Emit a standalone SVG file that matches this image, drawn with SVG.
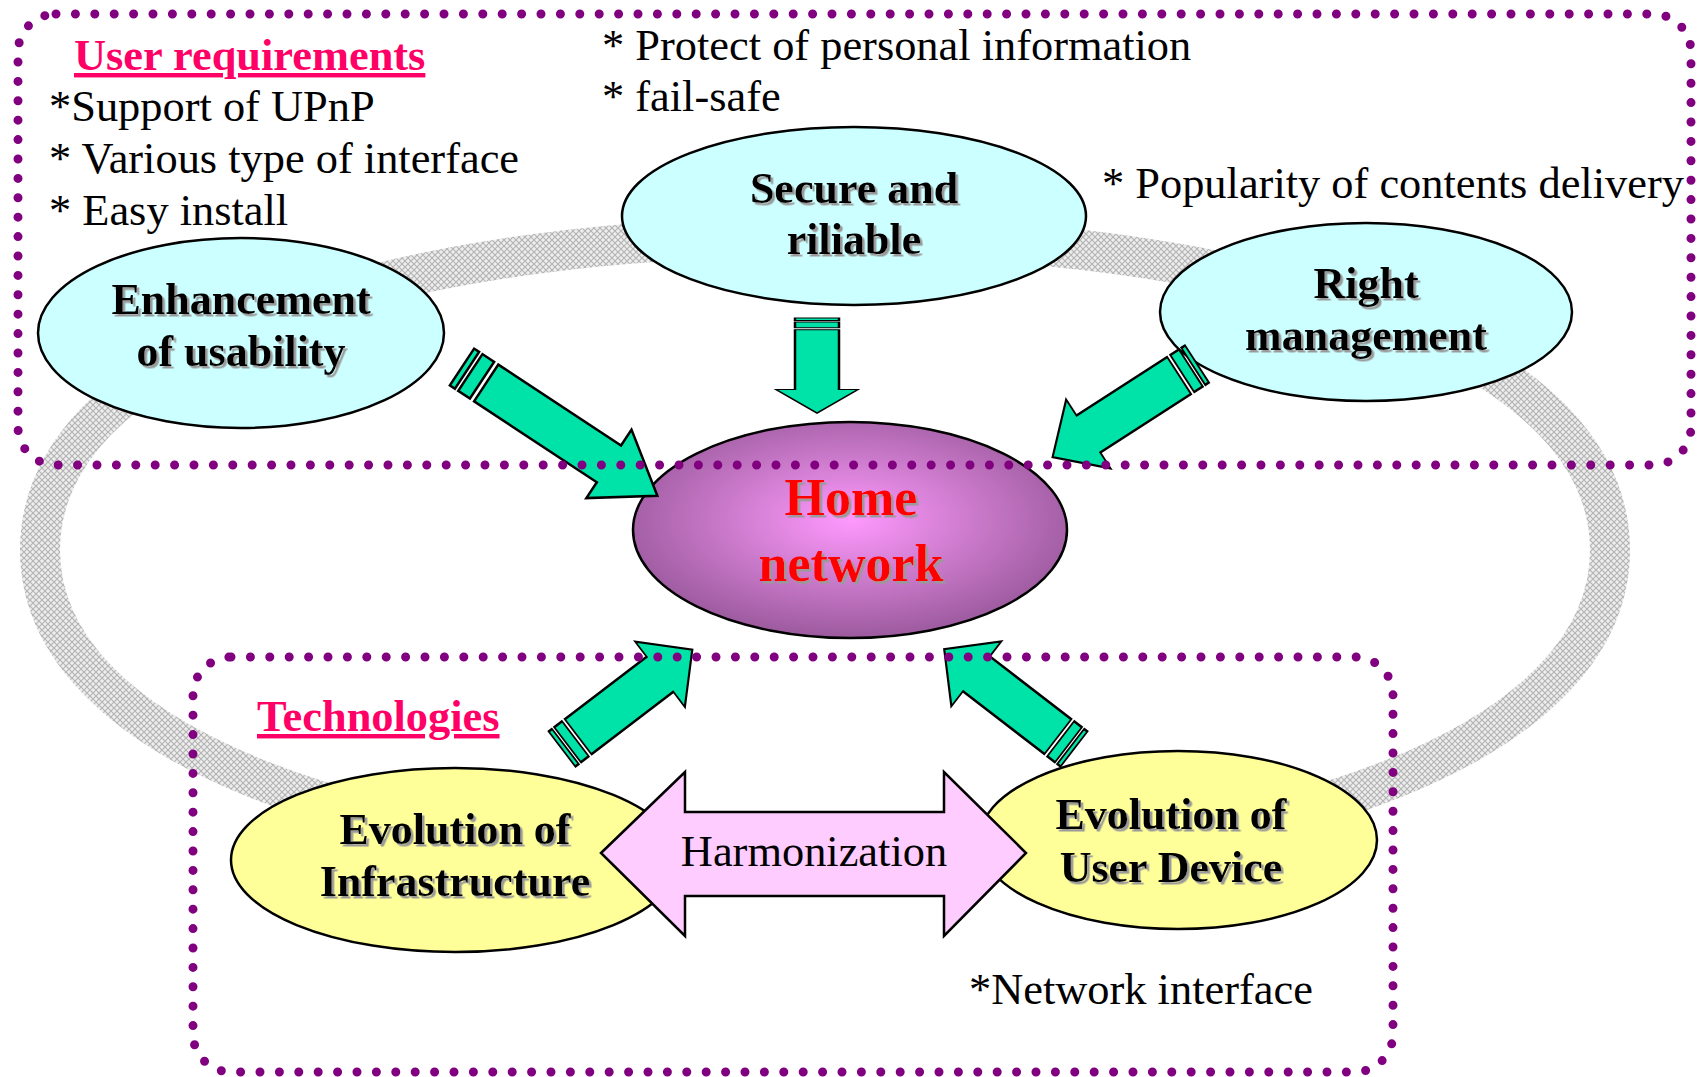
<svg xmlns="http://www.w3.org/2000/svg" width="1697" height="1077" viewBox="0 0 1697 1077">
<defs>
  <pattern id="hatch" width="6" height="6" patternUnits="userSpaceOnUse">
    <rect width="6" height="6" fill="#eeeeee"/>
    <path d="M0,0 L6,6 M6,0 L0,6" stroke="#b4b4b4" stroke-width="1.2"/>
  </pattern>
  <radialGradient id="homeGrad" cx="0.5" cy="0.45" r="0.55">
    <stop offset="0" stop-color="#FF99FF"/>
    <stop offset="0.55" stop-color="#C878C8"/>
    <stop offset="1" stop-color="#9C5A9E"/>
  </radialGradient>
  <filter id="shadow" x="-10%" y="-20%" width="130%" height="150%">
    <feDropShadow dx="2.5" dy="2.5" stdDeviation="0.4" flood-color="#9a9a9a" flood-opacity="1"/>
  </filter>
  <g id="blockArrow">
    <path d="M0,-22 H6 V22 H0 Z"/>
    <path d="M10,-22 H24 V22 H10 Z"/>
    <path d="M29,-22 H176 V-41 L234,0 L176,41 V22 H29 Z"/>
  </g>
</defs>
<style>
  .ring { fill: none; stroke: url(#hatch); stroke-width: 40; }
  .cyan { fill: #CCFFFF; stroke: #000; stroke-width: 2.5; }
  .yellow { fill: #FFFF99; stroke: #000; stroke-width: 2.5; }
  .home { fill: url(#homeGrad); stroke: #000; stroke-width: 2.5; }
  .green { fill: #00E3A8; stroke: #000; stroke-width: 2.5; stroke-linejoin: miter; }
  .green path { vector-effect: non-scaling-stroke; }
  .pink { fill: #FFCCFF; stroke: #000; stroke-width: 2.5; }
  .dots { fill: none; stroke: #800080; stroke-width: 9; stroke-linecap: round; stroke-dasharray: 0 19.4; }
  .node { font-family: "Liberation Serif", "Times New Roman", serif; font-weight: bold; font-size: 44px; text-anchor: middle; fill: #000; filter: url(#shadow); }
  .homet { font-family: "Liberation Serif", "Times New Roman", serif; font-weight: bold; font-size: 52px; text-anchor: middle; fill: #FF0000; filter: url(#shadow); }
  .body { font-family: "Liberation Serif", "Times New Roman", serif; font-size: 44.4px; fill: #000; }
  .title { font-family: "Liberation Serif", "Times New Roman", serif; font-weight: bold; font-size: 44.4px; fill: #FF0066; text-decoration: underline; }
</style>

<g id="background-ring">
  <path class="ring" d="M40,550 C40,361 354,236 825,236 C1296,236 1610,361 1610,550 C1610,739 1296,865 825,865 C354,865 40,739 40,550 Z"/>
</g>

<g id="node-enhancement">
  <ellipse class="cyan" cx="241" cy="333" rx="203" ry="95"/>
  <text class="node" x="241" y="314">Enhancement</text>
  <text class="node" x="241" y="366">of usability</text>
</g>
<g id="node-secure">
  <ellipse class="cyan" cx="854" cy="216" rx="232" ry="89"/>
  <text class="node" x="854" y="203">Secure and</text>
  <text class="node" x="854" y="254">riliable</text>
</g>
<g id="node-right">
  <ellipse class="cyan" cx="1366" cy="312" rx="206" ry="89"/>
  <text class="node" x="1366" y="298">Right</text>
  <text class="node" x="1366" y="350">management</text>
</g>
<g id="node-home">
  <ellipse class="home" cx="850" cy="530" rx="217" ry="108"/>
  <text class="homet" x="851" y="515">Home</text>
  <text class="homet" x="851" y="581">network</text>
</g>
<g id="node-infrastructure">
  <ellipse class="yellow" cx="455" cy="860" rx="224" ry="92"/>
  <text class="node" x="455" y="844">Evolution of</text>
  <text class="node" x="455" y="896">Infrastructure</text>
</g>
<g id="node-userdevice">
  <ellipse class="yellow" cx="1178" cy="840" rx="199" ry="89"/>
  <text class="node" x="1171" y="829">Evolution of</text>
  <text class="node" x="1171" y="882">User Device</text>
</g>

<g id="connectors">
  <g id="harmonization">
    <path class="pink" d="M601,853 L685,772 L685,812 L944,812 L944,772 L1026,853 L944,936 L944,896 L685,896 L685,936 Z"/>
    <text class="body" x="814" y="866" text-anchor="middle">Harmonization</text>
  </g>
  <g class="green">
    <use href="#blockArrow" transform="translate(462,367) rotate(33.4)"/>
    <use href="#blockArrow" transform="translate(817,318) rotate(90) scale(0.406,1)"/>
    <use href="#blockArrow" transform="translate(1197,364) rotate(147.2) scale(0.734,1)"/>
    <use href="#blockArrow" transform="translate(562,749) rotate(-37.3) scale(0.70,1)"/>
    <use href="#blockArrow" transform="translate(1074,749) rotate(-142.4) scale(0.70,1)"/>
  </g>
</g>

<g id="group-user-requirements">
  <rect class="dots" x="18" y="14" width="1673" height="451" rx="38"/>
  <text class="title" x="74" y="70">User requirements</text>
  <text class="body" x="49" y="121">*Support of UPnP</text>
  <text class="body" x="49" y="173">* Various type of interface</text>
  <text class="body" x="49" y="225">* Easy install</text>
  <text class="body" x="602" y="60">* Protect of personal information</text>
  <text class="body" x="602" y="111">* fail-safe</text>
  <text class="body" x="1102" y="198">* Popularity of contents delivery</text>
</g>

<g id="group-technologies">
  <rect class="dots" x="193" y="657" width="1200" height="415" rx="38"/>
  <text class="title" x="257" y="731">Technologies</text>
  <text class="body" x="969" y="1004">*Network interface</text>
</g>
</svg>
